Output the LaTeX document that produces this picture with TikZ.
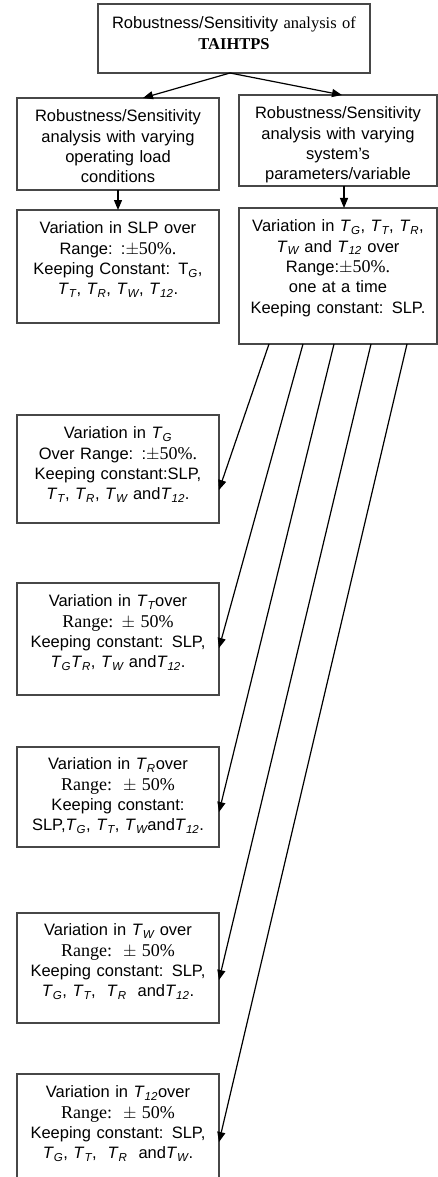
\documentclass[tikz,border=0pt]{standalone}
\usepackage{fontspec}
\setmainfont{Liberation Sans}
\newfontfamily\serf{Liberation Serif}
\usetikzlibrary{arrows.meta}
\newcommand\Tsub[1]{\textit{T}\textsubscript{\itshape #1}}
\newcommand\Tup[1]{T\textsubscript{\itshape #1}}
\newcommand\fs{\fontsize{16.5}{20.3}\selectfont}
\newcommand\bigserf{\serf\fontsize{18}{20.3}\selectfont}
\tikzset{
  box/.style={draw=black!72, line width=1.3pt, inner sep=0pt, outer sep=0pt, anchor=north west},
  txt/.style={inner sep=0pt, outer sep=0pt, align=center, text width=200pt, font=\fs, anchor=north},
  arr/.style={draw=black, line width=1.2pt, -{Triangle[length=10pt,width=8pt]}}
}
\begin{document}
\begin{tikzpicture}[x=1pt,y=-1pt]
\useasboundingbox (0,0) rectangle (438,1177);
% boxes
\node[box, minimum width=272pt, minimum height=69pt] (top) at (98,4) {};
\node[box, minimum width=202pt, minimum height=92pt] (L2) at (17,98) {};
\node[box, minimum width=198pt, minimum height=91pt] (R2) at (239,95) {};
\node[box, minimum width=202pt, minimum height=113pt] (L3) at (17,210) {};
\node[box, minimum width=198pt, minimum height=136pt] (R3) at (239,208) {};
\node[box, minimum width=202pt, minimum height=108pt] (bG) at (17,415) {};
\node[box, minimum width=202pt, minimum height=112pt] (bT) at (17,583) {};
\node[box, minimum width=202pt, minimum height=100pt] (bR) at (17,747) {};
\node[box, minimum width=202pt, minimum height=110pt] (bW) at (17,913) {};
\node[box, minimum width=202pt, minimum height=140pt] (b12) at (17,1074) {};
% texts
\node[txt, text width=270pt] (ttop) at ([yshift=-13pt]top.north) {Robustness/Sensitivity {\serf analysis of}\\{\serf\bfseries TAIHTPS}};
\node[txt] (tL2) at ([yshift=-12pt]L2.north) {Robustness/Sensitivity\\analysis with varying\\operating load\\conditions};
\node[txt] (tR2) at ([yshift=-12pt]R2.north) {Robustness/Sensitivity\\analysis with varying\\system's\\parameters/variable};
\node[txt] (tL3) at ([yshift=-12pt]L3.north) {Variation in SLP over\\Range: :{\bigserf $\pm$50\%.}\\Keeping Constant: \Tup{G},\\\Tsub{T}, \Tsub{R}, \Tsub{W}, \Tsub{12}.};
\node[txt] (tR3) at ([yshift=-12pt]R3.north) {Variation in \Tsub{G}, \Tsub{T}, \Tsub{R},\\\Tsub{W} and \Tsub{12} over\\Range:{\bigserf $\pm$50\%.}\\one at a time\\Keeping constant: SLP.};
\node[txt] (tG) at ([yshift=-12pt]bG.north) {Variation in \Tsub{G}\\Over Range: :{\bigserf $\pm$50\%.}\\Keeping constant:SLP,\\\Tsub{T}, \Tsub{R}, \Tsub{W} and\Tsub{12}.};
\node[txt] (tT) at ([yshift=-12pt]bT.north) {Variation in \Tsub{T}over\\{\bigserf Range: $\pm$ 50\%}\\Keeping constant: SLP,\\\Tsub{G}\Tsub{R}, \Tsub{W} and\Tsub{12}.};
\node[txt] (tR) at ([yshift=-11pt]bR.north) {Variation in \Tsub{R}over\\{\bigserf Range:\ \ $\pm$ 50\%}\\Keeping constant:\\SLP,\Tsub{G}, \Tsub{T}, \Tsub{W}and\Tsub{12}.};
\node[txt] (tW) at ([yshift=-11pt]bW.north) {Variation in \Tsub{W} over\\{\bigserf Range:\ \ $\pm$ 50\%}\\Keeping constant: SLP,\\\Tsub{G}, \Tsub{T}, \ \Tsub{R}\ \ and\Tsub{12}.};
\node[txt] (t12) at ([yshift=-12pt]b12.north) {Variation in \Tsub{12}over\\{\bigserf Range:\ \ $\pm$ 50\%}\\Keeping constant: SLP,\\\Tsub{G}, \Tsub{T}, \ \Tsub{R}\ \ and\Tsub{W}.};
% connectors
\draw[arr] ([xshift=-4pt]top.south) -- ([xshift=126pt]L2.north west);
\draw[arr] ([xshift=-4pt]top.south) -- ([xshift=103pt]R2.north west);
\draw[arr] (L2.south) -- (L3.north);
\draw[arr] ([xshift=6pt]R2.south) -- ([xshift=6pt]R3.north);
\draw[arr] ([xshift=30pt]R3.south west) -- ([yshift=-75pt]bG.north east);
\draw[arr] ([xshift=64pt]R3.south west) -- ([yshift=-65pt]bT.north east);
\draw[arr] ([xshift=95pt]R3.south west) -- ([yshift=-65pt]bR.north east);
\draw[arr] ([xshift=132pt]R3.south west) -- ([yshift=-67pt]bW.north east);
\draw[arr] ([xshift=168pt]R3.south west) -- ([yshift=-68pt]b12.north east);
\end{tikzpicture}
\end{document}
